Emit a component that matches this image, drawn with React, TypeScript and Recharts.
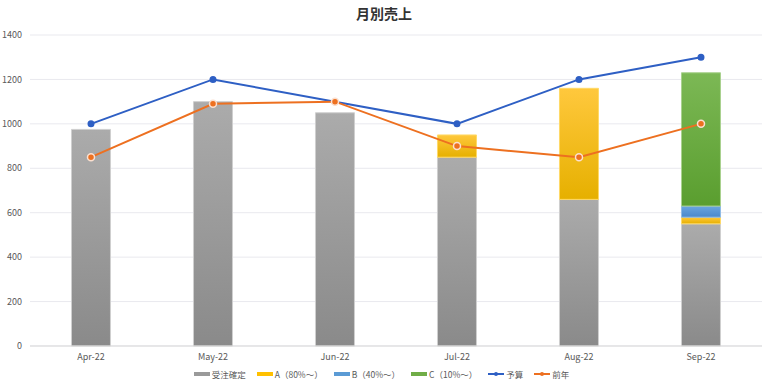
import React from 'react';
import {
  ComposedChart,
  Bar,
  Line,
  XAxis,
  YAxis,
  CartesianGrid,
  Legend,
} from 'recharts';

const months = ['Apr-22', 'May-22', 'Jun-22', 'Jul-22', 'Aug-22', 'Sep-22'];
const confirmed = [975, 1100, 1050, 850, 660, 550];
const rankA = [0, 0, 0, 100, 500, 30];
const rankB = [0, 0, 0, 0, 0, 50];
const rankC = [0, 0, 0, 0, 0, 600];
const budget = [1000, 1200, 1100, 1000, 1200, 1300];
const lastYear = [850, 1090, 1100, 900, 850, 1000];
const yTicks = [0, 200, 400, 600, 800, 1000, 1200, 1400];

const data = months.map((m, i) => ({
  month: m,
  confirmed: confirmed[i],
  a: rankA[i],
  b: rankB[i],
  c: rankC[i],
  budget: budget[i],
  lastYear: lastYear[i],
}));

const FONT = '"Noto Sans CJK JP", "Noto Sans", sans-serif';

const legendItems = [
  { label: '受注確定', color: '#9a9a9a', kind: 'bar' },
  { label: 'A（80%～）', color: '#ffc000', kind: 'bar' },
  { label: 'B（40%～）', color: '#5b9bd5', kind: 'bar' },
  { label: 'C（10%～）', color: '#70ad47', kind: 'bar' },
  { label: '予算', color: '#2e5fc4', kind: 'line' },
  { label: '前年', color: '#ed7020', kind: 'line' },
];

const LegendContent = () => (
  <div style={{ display: 'flex', justifyContent: 'center', alignItems: 'center', fontSize: 8.5, color: '#595959', fontFamily: FONT, paddingLeft: 12 }}>
    {legendItems.map((it) => (
      <div key={it.label} style={{ display: 'flex', alignItems: 'center', marginRight: 11 }}>
        <svg width={16} height={8} style={{ marginRight: 2 }}>
          {it.kind === 'bar' ? (
            <rect x={0} y={2} width={16} height={4} fill={it.color} />
          ) : (
            <>
              <line x1={0} y1={4} x2={16} y2={4} stroke={it.color} strokeWidth={2} />
              <circle cx={8} cy={4} r={2} fill={it.color} />
            </>
          )}
        </svg>
        <span>{it.label}</span>
      </div>
    ))}
  </div>
);

const App: React.FC = () => {
  return (
    <div style={{ position: 'absolute', left: 0, top: 0, width: 768, height: 386, background: '#fff', fontFamily: FONT }}>
      <div style={{ position: 'absolute', top: 3, width: 768, textAlign: 'center', fontSize: 14, fontWeight: 700, color: '#333' }}>
        月別売上
      </div>
      <ComposedChart
        width={768}
        height={386}
        data={data}
        margin={{ top: 35, right: 6, left: 0, bottom: 0 }}
        barCategoryGap="34%"
      >
        <defs>
          <linearGradient id="gGray" x1="0" y1="0" x2="0" y2="1">
            <stop offset="0%" stopColor="#ababab" />
            <stop offset="100%" stopColor="#8a8a8a" />
          </linearGradient>
          <linearGradient id="gYellow" x1="0" y1="0" x2="0" y2="1">
            <stop offset="0%" stopColor="#ffc83d" />
            <stop offset="100%" stopColor="#e6b000" />
          </linearGradient>
          <linearGradient id="gBlue" x1="0" y1="0" x2="0" y2="1">
            <stop offset="0%" stopColor="#6aa6e0" />
            <stop offset="100%" stopColor="#4a88cc" />
          </linearGradient>
          <linearGradient id="gGreen" x1="0" y1="0" x2="0" y2="1">
            <stop offset="0%" stopColor="#7cb855" />
            <stop offset="100%" stopColor="#5a9e2f" />
          </linearGradient>
        </defs>
        <CartesianGrid vertical={false} stroke="#e9e9ee" />
        <XAxis
          dataKey="month"
          tick={{ fontSize: 9, fill: '#595959' }}
          tickLine={false}
          axisLine={{ stroke: '#d9d9d9' }}
          height={22}
        />
        <YAxis
          domain={[0, 1400]}
          ticks={yTicks}
          tick={{ fontSize: 9, fill: '#595959' }}
          tickLine={false}
          axisLine={false}
          width={30}
          tickMargin={2}
        />
        <Legend verticalAlign="bottom" height={18} content={<LegendContent />} />
        <Bar dataKey="confirmed" stackId="s" fill="url(#gGray)" stroke="#cfcfcf" isAnimationActive={false} />
        <Bar dataKey="a" stackId="s" fill="url(#gYellow)" stroke="#ffd966" isAnimationActive={false} />
        <Bar dataKey="b" stackId="s" fill="url(#gBlue)" stroke="#8fbbe6" isAnimationActive={false} />
        <Bar dataKey="c" stackId="s" fill="url(#gGreen)" stroke="#a9d18e" isAnimationActive={false} />
        <Line
          dataKey="budget"
          stroke="#2e5fc4"
          strokeWidth={2}
          dot={{ r: 2.5, fill: '#2e5fc4', stroke: '#2e5fc4' }}
          isAnimationActive={false}
        />
        <Line
          dataKey="lastYear"
          stroke="#ed7020"
          strokeWidth={2}
          dot={{ r: 3.5, fill: '#ed7020', stroke: '#fbe0d0', strokeWidth: 1.5 }}
          isAnimationActive={false}
        />
      </ComposedChart>
    </div>
  );
};

export default App;
